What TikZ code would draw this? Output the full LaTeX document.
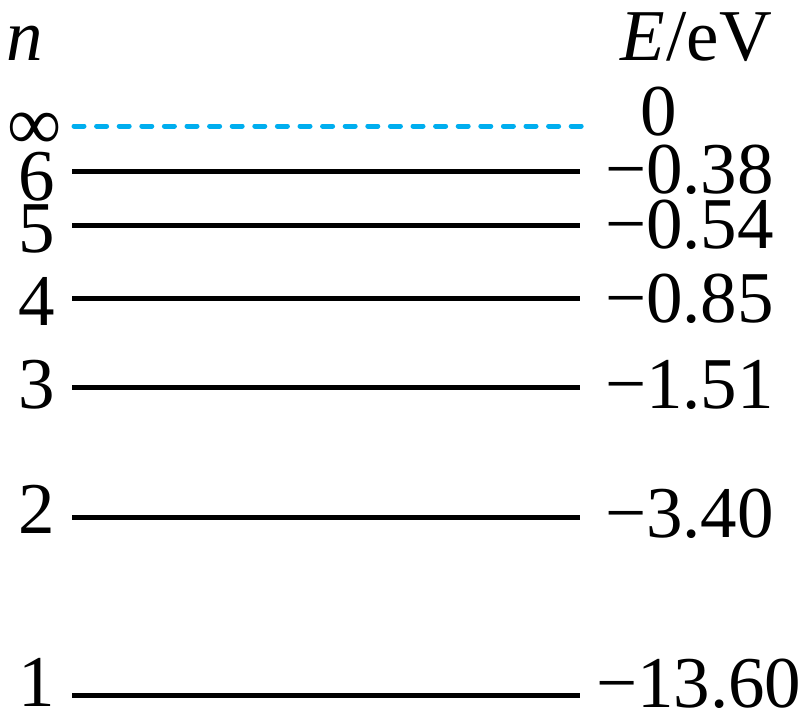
\documentclass[tikz,border=0pt]{standalone}
\usepackage{fontspec}
\setmainfont{Liberation Serif}
\definecolor{dashcyan}{RGB}{0,174,239}
\begin{document}
\begin{tikzpicture}[x=1pt,y=-1pt,
  every node/.style={inner sep=0pt,outer sep=0pt,font=\fontsize{73}{80}\selectfont},
  lvl/.style={line width=5pt},
  inf/.style={line width=5pt,dashcyan,line cap=round,dash pattern=on 10pt off 12.6pt},
  nlab/.style={anchor=base east},
  elab/.style={anchor=base west}]
\useasboundingbox (0,0) rectangle (810,718);
% header
\node[anchor=base west] (nh) at (6,60) {\itshape n};
\node[anchor=base west] (eh) at (620,60) {\textit{E}\kern2pt/eV};
% infinity level
\coordinate (l0) at (74,126); \coordinate (r0) at (582,126);
\draw[inf] (l0) -- (r0);
\node[anchor=base west] (ninf) at (7,149) {\fontsize{76}{80}\selectfont ∞};
\node[elab] (e0) at (640,135) {0};
% levels
\foreach \n/\y/\nb/\v/\eb/\ex in {6/171/200/{−0.38}/193/605, 5/225/252/{−0.54}/248/605, 4/298/325/{−0.85}/322/605, 3/387/408/{−1.51}/408/605, 2/517/533/{−3.40}/537/605, 1/695/706/{−13.60}/707/596}{
  \coordinate (l\n) at (72,\y); \coordinate (r\n) at (580,\y);
  \draw[lvl] (l\n) -- (r\n);
  \node[nlab] (n\n) at (55,\nb) {\n};
  \node[elab] (e\n) at (\ex,\eb) {\v};
}
\end{tikzpicture}
\end{document}
